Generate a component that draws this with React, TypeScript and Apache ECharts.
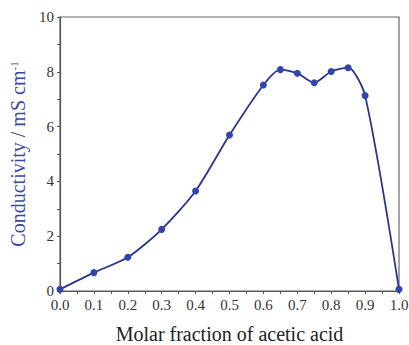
import React, { useEffect, useRef } from "react";
import * as echarts from "echarts";

const xValues = [0.0, 0.1, 0.2, 0.3, 0.4, 0.5, 0.6, 0.65, 0.7, 0.75, 0.8, 0.85, 0.9, 1.0];
const conductivity = [0.06, 0.67, 1.23, 2.25, 3.65, 5.69, 7.52, 8.08, 7.95, 7.6, 8.01, 8.15, 7.13, 0.06];
const xTitle = "Molar fraction of acetic acid";
const yTitle = "Conductivity / mS cm";

export default function App() {
  const ref = useRef<HTMLDivElement>(null);
  useEffect(() => {
    if (!ref.current) return;
    const chart = echarts.init(ref.current, null, { renderer: "svg" });
    const font = "Liberation Serif";
    const axisLine = { show: true, lineStyle: { color: "#555", width: 1.2 } };
    chart.setOption({
      animation: false,
      textStyle: { fontFamily: font },
      grid: {
        left: 60,
        right: 10,
        top: 17,
        bottom: 54,
        containLabel: false,
        outerBoundsMode: "none",
        show: true,
        borderColor: "#666",
        borderWidth: 1.2,
      },
      xAxis: {
        type: "value",
        min: 0,
        max: 1,
        interval: 0.1,
        axisLine,
        axisTick: { show: true, inside: false, length: 3, lineStyle: { color: "#555" } },
        minorTick: { show: true, splitNumber: 2, length: 3, lineStyle: { color: "#555" } },
        splitLine: { show: false },
        axisLabel: { fontFamily: font, fontSize: 15, color: "#333", margin: 6, formatter: (v: number) => v.toFixed(1) },
        name: xTitle,
        nameLocation: "middle",
        nameGap: 33,
        nameTextStyle: { fontFamily: font, fontSize: 20, color: "#222" },
      },
      yAxis: {
        type: "value",
        min: 0,
        max: 10,
        interval: 2,
        axisLine,
        axisTick: { show: true, inside: false, length: 3, lineStyle: { color: "#555" } },
        minorTick: { show: true, splitNumber: 2, length: 3, lineStyle: { color: "#555" } },
        splitLine: { show: false },
        axisLabel: { fontFamily: font, fontSize: 15, color: "#333", margin: 6 },
        name: yTitle + "{sup|-1}",
        nameLocation: "middle",
        nameRotate: 90,
        nameGap: 32,
        nameTextStyle: {
          fontFamily: font,
          fontSize: 20,
          color: "#3a48a8",
          rich: {
            sup: { fontFamily: font, fontSize: 11, color: "#3a48a8", verticalAlign: "top", padding: [0, 0, 9, 0] },
          },
        },
      },
      series: [
        {
          type: "line",
          data: xValues.map((x, i) => [x, conductivity[i]]),
          smooth: 0.25,
          symbol: "circle",
          symbolSize: 7,
          lineStyle: { color: "#2a3590", width: 1.8 },
          itemStyle: { color: "#2f45b0" },
        },
      ],
    });
    return () => chart.dispose();
  }, []);
  return <div ref={ref} style={{ position: "absolute", left: 0, top: 0, width: 409, height: 345 }} />;
}
